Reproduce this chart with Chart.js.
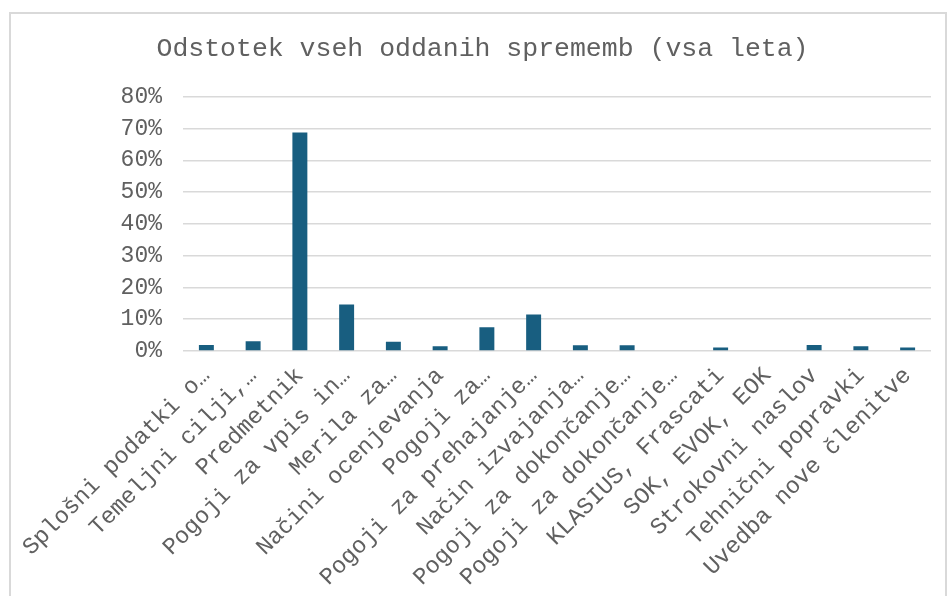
<!DOCTYPE html>
<html>
<head>
<meta charset="utf-8">
<script src="https://cdn.jsdelivr.net/npm/chart.js@4"></script>
<style>
  body { margin: 0; background: #fff; }
  #wrap { position: relative; width: 947px; height: 596px; }
  #frame { position: absolute; left: 9px; top: 12px; width: 934px; height: 600px; border: 2px solid #d9d9d9; }
  #chart { position: absolute; left: 0; top: 0; }
</style>
</head>
<body>
<div id="wrap">
  <div id="frame"></div>
  <canvas id="chart" width="947" height="596"></canvas>
</div>
<script>
const title = "Odstotek vseh oddanih sprememb (vsa leta)";
const categories = [
  "Splošni podatki o…", "Temeljni cilji,…", "Predmetnik", "Pogoji za vpis in…",
  "Merila za…", "Načini ocenjevanja", "Pogoji za…", "Pogoji za prehajanje…",
  "Način izvajanja…", "Pogoji za dokončanje…", "Pogoji za dokončanje…", "KLASIUS, Frascati",
  "SOK, EVOK, EOK", "Strokovni naslov", "Tehnični popravki", "Uvedba nove členitve"
];
const shares = [1.9, 3.1, 68.8, 14.6, 2.9, 1.5, 7.5, 11.5, 1.8, 1.8, 0.2, 1.1, 0, 1.9, 1.5, 1.1];
const yTicks = [0, 10, 20, 30, 40, 50, 60, 70, 80];

const grey = "#606060";
const mono = "'Liberation Mono', 'Courier New', monospace";

document.addEventListener("DOMContentLoaded", function () {
  const ctx = document.getElementById("chart").getContext("2d");
  new Chart(ctx, {
    type: "bar",
    data: {
      labels: categories,
      datasets: [
        {
          data: shares,
          backgroundColor: "#185e80",
          categoryPercentage: 1,
          barPercentage: 0.32,
        },
      ],
    },
    options: {
      responsive: false,
      animation: false,
      layout: { padding: { left: 34, right: 16, top: 0, bottom: 0 } },
      plugins: {
        legend: { display: false },
        tooltip: { enabled: false },
        title: {
          display: true,
          text: title,
          color: grey,
          font: { family: mono, size: 26.5, weight: "normal" },
          padding: { top: 33, bottom: 32 },
        },
      },
      scales: {
        x: {
          grid: { display: false, drawTicks: false },
          border: { display: false },
          ticks: {
            color: grey,
            font: { family: mono, size: 23.5 },
            minRotation: 45,
            maxRotation: 45,
            autoSkip: false,
            padding: 11,
          },
          afterFit: function (scale) {
            scale.height = 245;
            scale.paddingLeft = 0;
            scale.paddingRight = 0;
          },
        },
        y: {
          min: 0,
          max: yTicks[yTicks.length - 1],
          afterBuildTicks: function (scale) {
            scale.ticks = yTicks.map(function (v) { return { value: v }; });
          },
          grid: { color: "#d9d9d9", lineWidth: 1.5, drawTicks: false },
          border: { display: false },
          ticks: {
            color: grey,
            font: { family: mono, size: 23 },
            padding: 21,
            callback: function (v) { return v + "%"; },
          },
          afterFit: function (scale) { scale.width = 149; },
        },
      },
    },
  });
});
</script>
</body>
</html>
